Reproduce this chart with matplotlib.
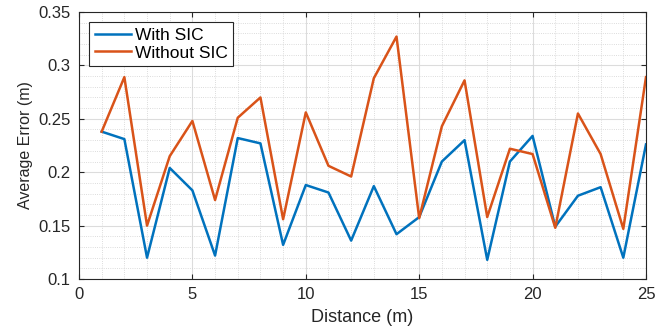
import numpy as np
import matplotlib.pyplot as plt
from matplotlib.ticker import MultipleLocator

plt.rcParams['font.family'] = ['Liberation Sans', 'DejaVu Sans']

# Du lieu doc tu hinh
distance = list(range(1, 26))
with_sic = [0.238, 0.231, 0.120, 0.204, 0.183, 0.122, 0.232, 0.227, 0.132, 0.188,
            0.181, 0.136, 0.187, 0.142, 0.158, 0.210, 0.230, 0.118, 0.210, 0.234,
            0.149, 0.178, 0.186, 0.120, 0.226]
without_sic = [0.238, 0.289, 0.150, 0.215, 0.248, 0.174, 0.251, 0.270, 0.156, 0.256,
               0.206, 0.196, 0.288, 0.327, 0.157, 0.243, 0.286, 0.158, 0.222, 0.217,
               0.148, 0.255, 0.217, 0.147, 0.289]

fig = plt.figure(figsize=(6.65, 3.33), dpi=100)
ax = fig.add_axes([0.1188, 0.162, 0.8526, 0.802])

ax.plot(distance, with_sic, color='#0072BD', linewidth=1.8, label='With SIC')
ax.plot(distance, without_sic, color='#D95319', linewidth=1.8, label='Without SIC')

ax.set_xlim(0, 25)
ax.set_ylim(0.1, 0.35)
ax.xaxis.set_major_locator(MultipleLocator(5))
ax.xaxis.set_minor_locator(MultipleLocator(1))
ax.yaxis.set_minor_locator(MultipleLocator(0.01))
ax.set_yticks(np.arange(0.1, 0.351, 0.05))
ax.set_yticklabels(['0.1', '0.15', '0.2', '0.25', '0.3', '0.35'])

ax.grid(which='major', color='#dcdcdc', linewidth=0.8)
ax.grid(which='minor', color='#d0d0d0', linestyle=':', linewidth=0.6)
ax.set_axisbelow(True)
ax.tick_params(which='both', direction='in', top=True, right=True, labelsize=12,
               colors='#262626')
ax.tick_params(axis='x', pad=6)
ax.tick_params(axis='y', pad=6)
ax.tick_params(which='minor', length=0)
for s in ax.spines.values():
    s.set_color('#262626')
    s.set_linewidth(0.8)

ax.set_xlabel('Distance (m)', fontsize=13, color='#262626', labelpad=5)
ax.set_ylabel('Average Error (m)', fontsize=11.5, color='#262626', labelpad=4)

leg = ax.legend(loc='upper left', fontsize=12.5, fancybox=False, framealpha=1,
                edgecolor='#262626', borderpad=0.3, handlelength=2.1,
                handletextpad=0.2, labelspacing=0.15, borderaxespad=0.6)
leg.get_frame().set_linewidth(0.8)

plt.savefig('out.png', dpi=100)
